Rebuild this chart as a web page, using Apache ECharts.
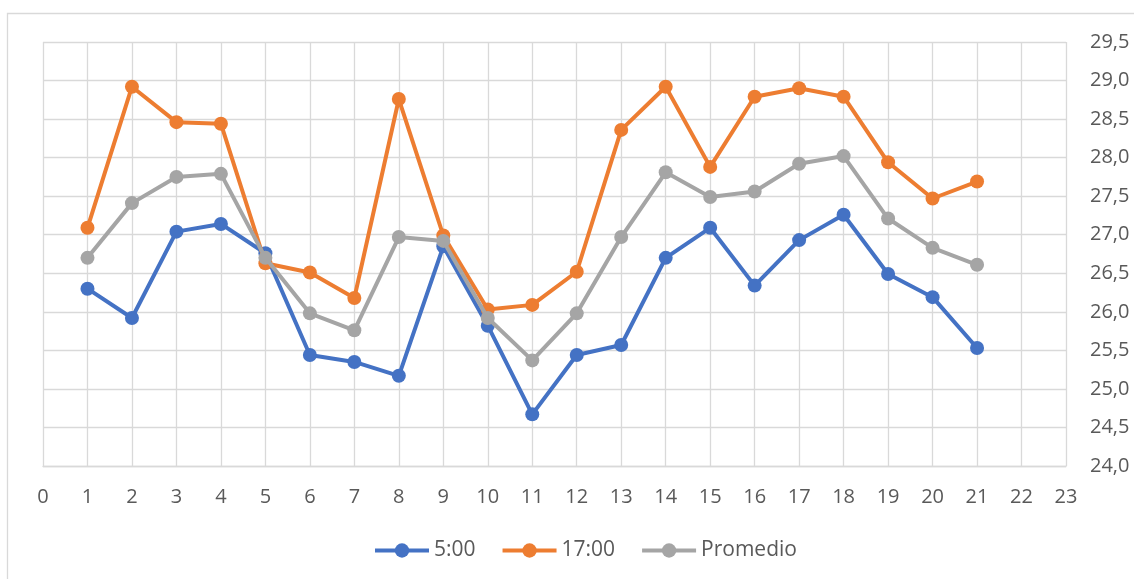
<!DOCTYPE html>
<html>
<head>
<meta charset="utf-8">
<script src="https://cdn.jsdelivr.net/npm/echarts@6/dist/echarts.min.js"></script>
<style>
  html, body { margin: 0; padding: 0; background: #fff; }
  #chart { width: 1134px; height: 579px; }
</style>
</head>
<body>
<div id="chart"></div>
<script>
// Day of the period (x) and temperature readings (°C)
const days = [1, 2, 3, 4, 5, 6, 7, 8, 9, 10, 11, 12, 13, 14, 15, 16, 17, 18, 19, 20, 21];
const temp0500 = [26.30, 25.92, 27.04, 27.14, 26.76, 25.44, 25.35, 25.17, 26.85, 25.82, 24.67,
                  25.44, 25.57, 26.70, 27.09, 26.34, 26.93, 27.26, 26.49, 26.19, 25.53];
const temp1700 = [27.09, 28.92, 28.46, 28.44, 26.63, 26.51, 26.18, 28.76, 26.99, 26.03, 26.09,
                  26.52, 28.36, 28.92, 27.88, 28.79, 28.90, 28.79, 27.94, 27.47, 27.69];
const tempAvg  = [26.70, 27.41, 27.75, 27.79, 26.70, 25.98, 25.76, 26.97, 26.92, 25.92, 25.37,
                  25.98, 26.97, 27.81, 27.49, 27.56, 27.92, 28.02, 27.21, 26.83, 26.61];
const seriesNames = ['5:00', '17:00', 'Promedio'];
const seriesColors = ['#4472C4', '#ED7D31', '#A5A5A5'];

const pairs = vals => days.map((d, i) => [d, vals[i]]);
const textColor = '#595959';
const gridColor = '#D9D9D9';
const font = '"Open Sans", "Liberation Sans", sans-serif';

const chart = echarts.init(document.getElementById('chart'), null, { renderer: 'canvas' });

chart.setOption({
  animation: false,
  backgroundColor: '#fff',
  graphic: [{
    type: 'rect',
    shape: { x: 7.5, y: 13.5, width: 1200, height: 700 },
    style: { fill: 'none', stroke: gridColor, lineWidth: 1.3 },
    silent: true,
    z: -1
  }],
  grid: { left: 43, top: 42, right: 68, bottom: 113, containLabel: false },
  legend: {
    left: 373,
    top: 540,
    padding: 0,
    itemWidth: 54,
    itemHeight: 18,
    itemGap: 25,
    lineStyle: { width: 4 },
    textStyle: { color: textColor, fontSize: 21, fontFamily: font },
    data: seriesNames
  },
  xAxis: {
    type: 'value',
    min: 0,
    max: 23,
    interval: 1,
    axisLine: { show: true, lineStyle: { color: gridColor, width: 1.3 } },
    axisTick: { show: false },
    splitLine: { show: true, lineStyle: { color: gridColor, width: 1.3 } },
    axisLabel: { color: textColor, fontSize: 20, fontFamily: font, margin: 21 }
  },
  yAxis: {
    type: 'value',
    position: 'right',
    min: 24,
    max: 29.5,
    interval: 0.5,
    axisLine: { show: false },
    axisTick: { show: false },
    splitLine: { show: true, lineStyle: { color: gridColor, width: 1.3 } },
    axisLabel: {
      color: textColor, fontSize: 20, fontFamily: font, margin: 24,
      formatter: v => v.toFixed(1).replace('.', ',')
    }
  },
  series: [temp0500, temp1700, tempAvg].map((vals, i) => ({
    name: seriesNames[i],
    type: 'line',
    data: pairs(vals),
    symbol: 'circle',
    symbolSize: 14,
    color: seriesColors[i],
    lineStyle: { width: 4, color: seriesColors[i] },
    itemStyle: { color: seriesColors[i] },
    z: 2 + i
  }))
});
</script>
</body>
</html>
